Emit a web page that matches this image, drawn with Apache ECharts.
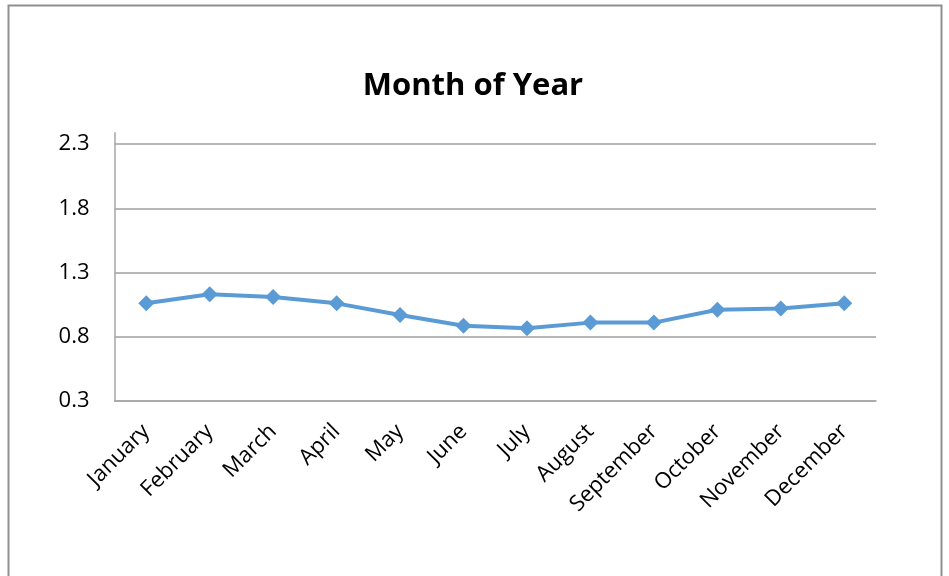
<!DOCTYPE html>
<html>
<head>
<meta charset="utf-8">
<script src="https://cdn.jsdelivr.net/npm/echarts@6/dist/echarts.min.js"></script>
<style>
html,body{margin:0;padding:0;background:#fff;}
#c{width:949px;height:576px;}
</style>
</head>
<body>
<div id="c"></div>
<script>
const categories = ['January','February','March','April','May','June','July','August','September','October','November','December'];
const values = [1.06, 1.13, 1.11, 1.06, 0.97, 0.885, 0.866, 0.91, 0.91, 1.01, 1.02, 1.06];
const yTicks = [0.3, 0.8, 1.3, 1.8, 2.3];
const titleText = 'Month of Year';

const chart = echarts.init(document.getElementById('c'));
chart.setOption({
  animation: false,
  backgroundColor: '#fff',
  title: {
    text: titleText,
    left: 468, top: 66, textAlign: 'center',
    textStyle: {fontFamily: 'Open Sans', fontWeight: 'bold', fontSize: 31, color: '#000'}
  },
  graphic: [{
    type: 'rect', shape: {x: 8.5, y: 5.5, width: 933, height: 620},
    style: {fill: 'none', stroke: '#8f8f8f', lineWidth: 2}, silent: true
  }],
  grid: {left: 114.5, right: 73, top: 132.7, bottom: 175},
  xAxis: {
    type: 'category', data: categories, boundaryGap: true,
    axisLine: {lineStyle: {color: '#a6a6a6', width: 1.5}},
    axisTick: {alignWithLabel: true, inside: true, length: 6, lineStyle: {color: '#a6a6a6', width: 1.5}},
    axisLabel: {rotate: 45, margin: 27, fontFamily: 'Open Sans', fontSize: 22, color: '#000', interval: 0}
  },
  yAxis: {
    type: 'value', min: 0.3, max: 2.388,
    axisLine: {show: true, lineStyle: {color: '#a6a6a6', width: 1.5}},
    axisTick: {show: false, customValues: yTicks},
    axisLabel: {customValues: yTicks, margin: 25, fontFamily: 'Open Sans', fontSize: 22, color: '#000',
      formatter: v => v.toFixed(1)},
    splitLine: {show: true, lineStyle: {color: '#a0a0a0', width: 1.5}}
  },
  series: [{
    type: 'line', data: values,
    symbol: 'diamond', symbolSize: 16,
    lineStyle: {color: '#5b9bd5', width: 4},
    itemStyle: {color: '#5b9bd5'}
  }]
});
</script>
</body>
</html>
